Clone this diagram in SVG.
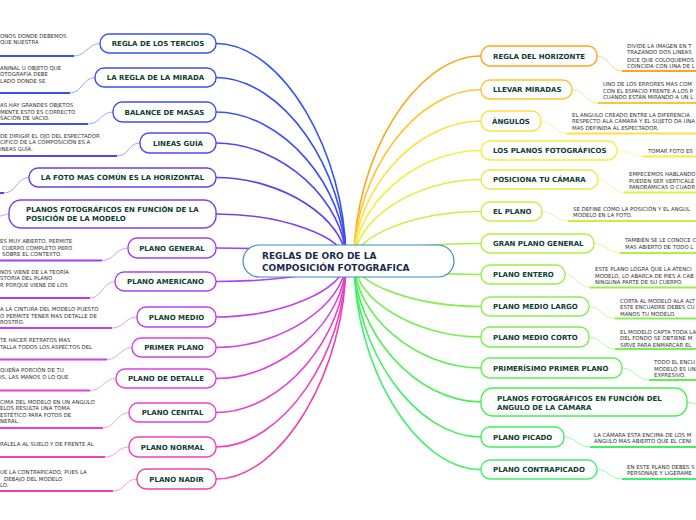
<svg xmlns="http://www.w3.org/2000/svg" width="696" height="520" viewBox="0 0 696 520">
<style>
.n{fill:#fff;stroke-width:1.4}
.t{font-family:"DejaVu Sans",Verdana,sans-serif;font-weight:bold;font-size:7px;fill:#0f3d33}
.tc{text-anchor:middle}
.d{font-family:"DejaVu Sans",Verdana,sans-serif;font-size:5.4px;fill:#333}
.c{fill:none;stroke-width:1.6}
.s{fill:none;stroke-width:0.9;opacity:0.55}
.u{fill:none;stroke-width:2}
</style>
<rect width="696" height="520" fill="#fff"/>
<g id="connectors">
<!-- main left -->
<path class="c" stroke="#3355ee" d="M216 43.5C282 43.5 346 152 346 261"/>
<path class="c" stroke="#3a50ee" d="M216 77.5C282 77.5 346 169 346 261"/>
<path class="c" stroke="#4050ee" d="M216 112C282 112 346 186 346 261"/>
<path class="c" stroke="#5048ee" d="M216 143C282 143 346 202 346 261"/>
<path class="c" stroke="#6040ee" d="M216 177.5C282 177.5 346 219 346 261"/>
<path class="c" stroke="#7a40ee" d="M216 214C282 214 346 237 346 261"/>
<path class="c" stroke="#a040ee" d="M216 248C282 248 346 254 346 261"/>
<path class="c" stroke="#b040ee" d="M216 281.5C282 281.5 346 271 346 261"/>
<path class="c" stroke="#c040ee" d="M216 317C282 317 346 289 346 261"/>
<path class="c" stroke="#d040e8" d="M216 347.5C282 347.5 346 304 346 261"/>
<path class="c" stroke="#e040e0" d="M216 378.5C282 378.5 346 320 346 261"/>
<path class="c" stroke="#e840d0" d="M216 412.5C282 412.5 346 337 346 261"/>
<path class="c" stroke="#f040c0" d="M216 447C282 447 346 354 346 261"/>
<path class="c" stroke="#f040b0" d="M216 479C282 479 346 370 346 261"/>
<!-- main right -->
<path class="c" stroke="#ffa520" d="M481 56C415 56 354 158 354 261"/>
<path class="c" stroke="#ffc530" d="M481 89.5C415 89.5 354 175 354 261"/>
<path class="c" stroke="#ffe040" d="M481 121C415 121 354 191 354 261"/>
<path class="c" stroke="#f0f040" d="M481 150.5C415 150.5 354 206 354 261"/>
<path class="c" stroke="#e0f040" d="M481 179.5C415 179.5 354 220 354 261"/>
<path class="c" stroke="#c8f040" d="M481 211.5C415 211.5 354 236 354 261"/>
<path class="c" stroke="#b0f040" d="M481 243.5C415 243.5 354 252 354 261"/>
<path class="c" stroke="#98f045" d="M481 274.5C415 274.5 354 268 354 261"/>
<path class="c" stroke="#88f050" d="M481 306.5C415 306.5 354 284 354 261"/>
<path class="c" stroke="#78f050" d="M481 337C415 337 354 299 354 261"/>
<path class="c" stroke="#60f050" d="M481 368C415 368 354 314 354 261"/>
<path class="c" stroke="#45f050" d="M481 402C415 402 354 331 354 261"/>
<path class="c" stroke="#40f060" d="M481 437C415 437 354 349 354 261"/>
<path class="c" stroke="#40f070" d="M481 469.5C415 469.5 354 365 354 261"/>
<!-- left description links -->
<path class="s" stroke="#3355ee" d="M100 43.5C88 43.5 86 56 74 56"/><path class="u" stroke="#3355ee" d="M74 56H0"/>
<path class="s" stroke="#3a50ee" d="M95 77.5C83 77.5 82 93 70 93"/><path class="u" stroke="#3a50ee" d="M70 93H0"/>
<path class="s" stroke="#4050ee" d="M113 112C101 112 100 124 88 124"/><path class="u" stroke="#4050ee" d="M88 124H0"/>
<path class="s" stroke="#5048ee" d="M140 143C128 143 129 156 117 156"/><path class="u" stroke="#5048ee" d="M117 156H0"/>
<path class="s" stroke="#6040ee" d="M29 177.5C17 177.5 16 193 4 193"/><path class="u" stroke="#6040ee" d="M4 193H0"/>
<path class="s" stroke="#7a40ee" d="M9 214C5 214 3 216 0 216"/>
<path class="s" stroke="#a040ee" d="M128 248C116 248 114 260.5 102 260.5"/><path class="u" stroke="#a040ee" d="M102 260.5H0"/>
<path class="s" stroke="#b040ee" d="M115 281.5C103 281.5 102 298 90 298"/><path class="u" stroke="#b040ee" d="M90 298H0"/>
<path class="s" stroke="#c040ee" d="M137 317C125 317 124 328 112 328"/><path class="u" stroke="#c040ee" d="M112 328H0"/>
<path class="s" stroke="#d040e8" d="M132 347.5C120 347.5 119 359.5 107 359.5"/><path class="u" stroke="#d040e8" d="M107 359.5H0"/>
<path class="s" stroke="#e040e0" d="M116 378.5C104 378.5 102 390.5 90 390.5"/><path class="u" stroke="#e040e0" d="M90 390.5H0"/>
<path class="s" stroke="#e840d0" d="M129 412.5C117 412.5 115 428 103 428"/><path class="u" stroke="#e840d0" d="M103 428H0"/>
<path class="s" stroke="#f040c0" d="M129 447C117 447 117 457 105 457"/><path class="u" stroke="#f040c0" d="M105 457H0"/>
<path class="s" stroke="#f040b0" d="M137 479C125 479 125 491 113 491"/><path class="u" stroke="#f040b0" d="M113 491H0"/>
<!-- right description links -->
<path class="s" stroke="#ffa520" d="M597 56C609 56 610 71 622 71"/><path class="u" stroke="#ffa520" d="M622 71H696"/>
<path class="s" stroke="#ffc530" d="M572 89.5C584 89.5 586 103 598 103"/><path class="u" stroke="#ffc530" d="M598 103H696"/>
<path class="s" stroke="#ffe040" d="M541 121C553 121 555 133.5 567 133.5"/><path class="u" stroke="#ffe040" d="M567 133.5H696"/>
<path class="s" stroke="#f0f040" d="M617 150.5C629 150.5 631 156.5 643 156.5"/><path class="u" stroke="#f0f040" d="M643 156.5H696"/>
<path class="s" stroke="#e0f040" d="M598 179.5C610 179.5 612 192.5 624 192.5"/><path class="u" stroke="#e0f040" d="M624 192.5H696"/>
<path class="s" stroke="#c8f040" d="M542 211.5C554 211.5 556 221 568 221"/><path class="u" stroke="#c8f040" d="M568 221H696"/>
<path class="s" stroke="#b0f040" d="M594 243.5C606 243.5 608 253 620 253"/><path class="u" stroke="#b0f040" d="M620 253H696"/>
<path class="s" stroke="#98f045" d="M565 274.5C577 274.5 578 287.5 590 287.5"/><path class="u" stroke="#98f045" d="M590 287.5H696"/>
<path class="s" stroke="#88f050" d="M589 306.5C601 306.5 603 318.5 615 318.5"/><path class="u" stroke="#88f050" d="M615 318.5H696"/>
<path class="s" stroke="#78f050" d="M589 337C601 337 603 349 615 349"/><path class="u" stroke="#78f050" d="M615 349H696"/>
<path class="s" stroke="#60f050" d="M622 368C634 368 637 380 649 380"/><path class="u" stroke="#60f050" d="M649 380H696"/>
<path class="s" stroke="#45f050" d="M687 402C691 402 693 404 696 404"/>
<path class="s" stroke="#40f060" d="M564 437C576 437 578 447 590 447"/><path class="u" stroke="#40f060" d="M590 447H696"/>
<path class="s" stroke="#40f070" d="M597 469.5C609 469.5 610 479 622 479"/><path class="u" stroke="#40f070" d="M622 479H696"/>
</g>
<g id="center">
<rect x="243" y="245" width="211" height="32" rx="16" fill="#fff" stroke="#3a88c8" stroke-width="1.2"/>
<text class="t" style="font-size:9px;fill:#1b2a4e" x="262" y="259">REGLAS DE ORO DE LA</text>
<text class="t" style="font-size:9px;fill:#1b2a4e" x="262" y="270.5">COMPOSICIÓN FOTOGRAFICA</text>
</g>
<!-- left nodes -->
<g id="tercios"><rect class="n" stroke="#3355ee" x="100" y="34" width="116" height="19" rx="9"/><text class="t tc" x="158" y="46">REGLA DE LOS TERCIOS</text>
<text class="d" x="0" y="38">ONOS DONDE DEBEMOS</text><text class="d" x="0" y="44.3">QUE NUESTRA</text></g>
<g id="mirada"><rect class="n" stroke="#3a50ee" x="95" y="68" width="121" height="19" rx="9"/><text class="t tc" x="155.5" y="80">LA REGLA DE LA MIRADA</text>
<text class="d" x="0" y="69.5">ANINAL U OBJETO QUE</text><text class="d" x="0" y="76">OTOGRAFÍA DEBE</text><text class="d" x="0" y="82.5">LADO DONDE SE</text></g>
<g id="masas"><rect class="n" stroke="#4050ee" x="113" y="102" width="103" height="20" rx="9"/><text class="t tc" x="164.5" y="114.5">BALANCE DE MASAS</text>
<text class="d" x="0" y="107">AS HAY GRANDES OBJETOS</text><text class="d" x="0" y="113.5">MENTE ESTO ES CORRECTO</text><text class="d" x="0" y="120">SACIÓN DE VACIO.</text></g>
<g id="lineas"><rect class="n" stroke="#5048ee" x="140" y="133" width="76" height="20" rx="9"/><text class="t tc" x="178" y="145.5">LINEAS GUÍA</text>
<text class="d" x="0" y="137.5">DE DIRIGIR EL OJO DEL ESPECTADOR</text><text class="d" x="0" y="144">CIFICO DE LA COMPOSICIÓN ES A</text><text class="d" x="0" y="150.5">INEAS GUÍA.</text></g>
<g id="horizontal"><rect class="n" stroke="#6040ee" x="29" y="168" width="187" height="19" rx="9"/><text class="t tc" x="122.5" y="180">LA FOTO MAS COMÚN ES LA HORIZONTAL</text></g>
<g id="posicion"><rect class="n" stroke="#7a40ee" x="9" y="200" width="207" height="28" rx="12"/><text class="t" x="26" y="212">PLANOS FOTOGRÁFICOS EN FUNCIÓN DE LA</text><text class="t" x="26" y="221">POSICIÓN DE LA MODELO</text></g>
<g id="general"><rect class="n" stroke="#a040ee" x="128" y="238" width="88" height="20" rx="9"/><text class="t tc" x="172" y="250.5">PLANO GENERAL</text>
<text class="d" x="0" y="243">ES MUY ABIERTO, PERMITE</text><text class="d" x="2" y="249.5">CUERPO COMPLETO PERO</text><text class="d" x="2" y="256">SOBRE EL CONTEXTO.</text></g>
<g id="americano"><rect class="n" stroke="#b040ee" x="115" y="272" width="101" height="19" rx="9"/><text class="t tc" x="165.5" y="284">PLANO AMERICANO</text>
<text class="d" x="0" y="273.5">NOS VIENE DE LA TEORÍA</text><text class="d" x="0" y="280">STORIA DEL PLANO</text><text class="d" x="0" y="286.5">R PORQUE VIENE DE LOS</text></g>
<g id="medio"><rect class="n" stroke="#c040ee" x="137" y="307" width="79" height="20" rx="9"/><text class="t tc" x="176.5" y="319.5">PLANO MEDIO</text>
<text class="d" x="0" y="311">A LA CINTURA DEL MODELO PUESTO</text><text class="d" x="0" y="317.5">O PERMITE TENER MAS DETALLE DE</text><text class="d" x="0" y="324">ROSTRO.</text></g>
<g id="primer"><rect class="n" stroke="#d040e8" x="132" y="338" width="84" height="19" rx="9"/><text class="t tc" x="174" y="350">PRIMER PLANO</text>
<text class="d" x="0" y="342">TE HACER RETRATOS MAS</text><text class="d" x="0" y="348.5">TALLA TODOS LOS ASPECTOS DEL</text></g>
<g id="detalle"><rect class="n" stroke="#e040e0" x="116" y="369" width="100" height="19" rx="9"/><text class="t tc" x="166" y="381">PLANO DE DETALLE</text>
<text class="d" x="0" y="372">QUEÑA PORCIÓN DE TU</text><text class="d" x="0" y="378.5">IS, LAS MANOS O LO QUE</text></g>
<g id="cenital"><rect class="n" stroke="#e840d0" x="129" y="403" width="87" height="19" rx="9"/><text class="t tc" x="172.5" y="415">PLANO CENITAL</text>
<text class="d" x="0" y="403.5">CIMA DEL MODELO EN UN ANGULO</text><text class="d" x="0" y="410">ELOS RESULTA UNA TOMA</text><text class="d" x="0" y="416.5">ESTÉTICO PARA FOTOS DE</text><text class="d" x="0" y="423">NERAL.</text></g>
<g id="normal"><rect class="n" stroke="#f040c0" x="129" y="437" width="87" height="20" rx="9"/><text class="t tc" x="172.5" y="449.5">PLANO NORMAL</text>
<text class="d" x="0" y="446">RALELA AL SUELO Y DE FRENTE AL</text></g>
<g id="nadir"><rect class="n" stroke="#f040b0" x="137" y="469" width="79" height="20" rx="9"/><text class="t tc" x="176.5" y="481.5">PLANO NADIR</text>
<text class="d" x="0" y="474">UE LA CONTRAPICADO, PUES LA</text><text class="d" x="4" y="480.5">DEBAJO DEL MODELO</text><text class="d" x="0" y="487">LO.</text></g>
<!-- right nodes -->
<g id="horizonte"><rect class="n" stroke="#ffa520" x="481" y="46" width="116" height="20" rx="9"/><text class="t" x="493" y="58.5">REGLA DEL HORIZONTE</text>
<text class="d" x="627" y="48">DIVIDE LA IMAGEN EN T</text><text class="d" x="627" y="54">TRAZANDO DOS LINEAS</text><text class="d" x="627" y="61.5">DICE QUE COLOQUEMOS</text><text class="d" x="627" y="67.5">COINCIDA CON UNA DE L</text></g>
<g id="miradas"><rect class="n" stroke="#ffc530" x="481" y="80" width="91" height="19" rx="9"/><text class="t" x="493" y="92">LLEVAR MIRADAS</text>
<text class="d" x="603" y="86">UNO DE LOS ERRORES MAS COM</text><text class="d" x="603" y="92.5">CON EL ESPACIO FRENTE A LOS P</text><text class="d" x="603" y="99">CUANDO ESTÁN MIRANDO A UN L</text></g>
<g id="angulos"><rect class="n" stroke="#ffe040" x="481" y="111" width="60" height="20" rx="9"/><text class="t" x="492" y="123.5">ÁNGULOS</text>
<text class="d" x="572" y="116.5">EL ANGULO CREADO ENTRE LA DIFERENCIA</text><text class="d" x="572" y="123">RESPECTO ALA CÁMARA Y EL SUJETO DA UNA</text><text class="d" x="572" y="129.5">MAS DEFINIDA AL ESPECTADOR.</text></g>
<g id="planos"><rect class="n" stroke="#f0f040" x="481" y="141" width="136" height="19" rx="9"/><text class="t" x="493" y="153">LOS PLANOS FOTOGRÁFICOS</text>
<text class="d" x="648" y="152.5">TOMAR FOTO ES</text></g>
<g id="posiciona"><rect class="n" stroke="#e0f040" x="481" y="170" width="117" height="19" rx="9"/><text class="t" x="493" y="182">POSICIONA TU CÁMARA</text>
<text class="d" x="629" y="176">EMPECEMOS HABLANDO</text><text class="d" x="629" y="182.5">PUEDEN SER VERTICALE</text><text class="d" x="629" y="189">PANORÁMICAS O CUADR</text></g>
<g id="elplano"><rect class="n" stroke="#c8f040" x="481" y="202" width="61" height="19" rx="9"/><text class="t" x="493" y="214">EL PLANO</text>
<text class="d" x="573" y="210.5">SE DEFINE COMO LA POSICIÓN Y EL ANGUL</text><text class="d" x="573" y="217">MODELO EN LA FOTO.</text></g>
<g id="granplano"><rect class="n" stroke="#b0f040" x="481" y="234" width="113" height="19" rx="9"/><text class="t" x="493" y="246">GRAN PLANO GENERAL</text>
<text class="d" x="625" y="242">TAMBIÉN SE LE CONOCE C</text><text class="d" x="625" y="248.5">MAS ABIERTO DE TODO L</text></g>
<g id="entero"><rect class="n" stroke="#98f045" x="481" y="265" width="84" height="19" rx="9"/><text class="t" x="493" y="277">PLANO ENTERO</text>
<text class="d" x="595" y="271">ESTE PLANO LOGRA QUE LA ATENCI</text><text class="d" x="595" y="277.5">MODELO, LO ABARCA DE PIES A CAB</text><text class="d" x="595" y="284">NINGUNA PARTE DE SU CUERPO.</text></g>
<g id="mediolargo"><rect class="n" stroke="#88f050" x="481" y="297" width="108" height="19" rx="9"/><text class="t" x="493" y="309">PLANO MEDIO LARGO</text>
<text class="d" x="620" y="302.5">CORTA AL MODELO ALA ALT</text><text class="d" x="620" y="309">ESTE ENCUADRE DEBES CU</text><text class="d" x="620" y="315.5">MANOS TU MODELO.</text></g>
<g id="mediocorto"><rect class="n" stroke="#78f050" x="481" y="327" width="108" height="20" rx="9"/><text class="t" x="493" y="339.5">PLANO MEDIO CORTO</text>
<text class="d" x="620" y="333.5">EL MODELO CAPTA TODA LA</text><text class="d" x="620" y="340">DEL FONDO SE OBTIENE M</text><text class="d" x="620" y="346.5">SIRVE PARA ENMARCAR EL</text></g>
<g id="primerisimo"><rect class="n" stroke="#60f050" x="481" y="358" width="141" height="20" rx="9"/><text class="t" x="493" y="370.5">PRIMERÍSIMO PRIMER PLANO</text>
<text class="d" x="654" y="364">TODO EL ENCU</text><text class="d" x="654" y="370.5">MODELO ES UN</text><text class="d" x="654" y="377">EXPRESIVO.</text></g>
<g id="angulocamara"><rect class="n" stroke="#45f050" x="481" y="388" width="206" height="28" rx="12"/><text class="t" x="497" y="400.5">PLANOS FOTOGRÁFICOS EN FUNCIÓN DEL</text><text class="t" x="497" y="409.5">ANGULO DE LA CÁMARA</text></g>
<g id="picado"><rect class="n" stroke="#40f060" x="481" y="427" width="83" height="20" rx="9"/><text class="t" x="493" y="439.5">PLANO PICADO</text>
<text class="d" x="594" y="436.5">LA CÁMARA ESTA ENCIMA DE LOS M</text><text class="d" x="594" y="443">ANGULO MAS ABIERTO QUE EL CENI</text></g>
<g id="contrapicado"><rect class="n" stroke="#40f070" x="481" y="460" width="116" height="19" rx="9"/><text class="t" x="493" y="472">PLANO CONTRAPICADO</text>
<text class="d" x="627" y="468.5">EN ESTE PLANO DEBES S</text><text class="d" x="627" y="475">PERSONAJE Y LIGERAME</text></g>
</svg>
